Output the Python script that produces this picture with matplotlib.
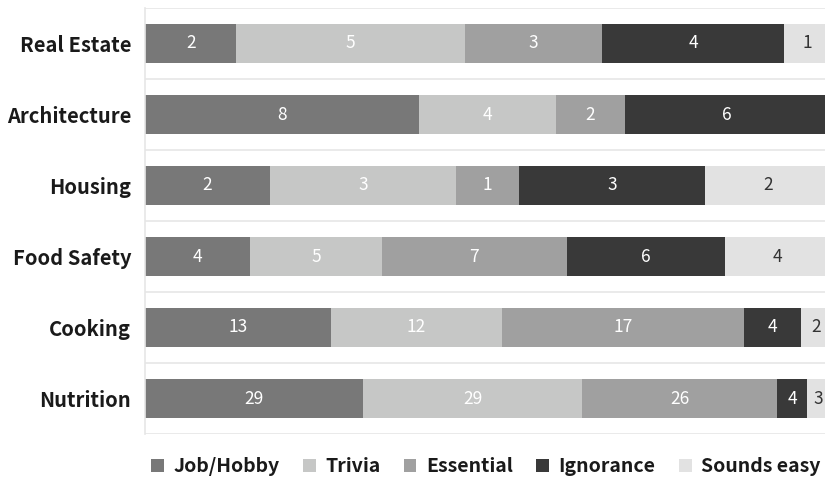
import matplotlib
matplotlib.use("Agg")
import matplotlib.pyplot as plt
import numpy as np

plt.rcParams['font.family'] = ['Noto Sans CJK JP', 'DejaVu Sans']

categories = ["Real Estate", "Architecture", "Housing", "Food Safety", "Cooking", "Nutrition"]
series_names = ["Job/Hobby", "Trivia", "Essential", "Ignorance", "Sounds easy"]
job_hobby = [2, 8, 2, 4, 13, 29]
trivia = [5, 4, 3, 5, 12, 29]
essential = [3, 2, 1, 7, 17, 26]
ignorance = [4, 6, 3, 6, 4, 4]
sounds_easy = [1, 0, 2, 4, 2, 3]

colors = ["#787878", "#c6c7c6", "#a0a0a0", "#393939", "#e2e2e2"]
text_colors = ["white", "white", "white", "white", "#333333"]

data = np.array([job_hobby, trivia, essential, ignorance, sounds_easy], dtype=float)
totals = data.sum(axis=0)
frac = data / totals

fig = plt.figure(figsize=(8.25, 4.79), dpi=100)
ax = fig.add_axes([145/825, 1-434/479, (830-145)/825, (434-8)/479])

y = np.arange(len(categories))
left = np.zeros(len(categories))
for i, name in enumerate(series_names):
    ax.barh(y, frac[i], left=left, height=0.54, color=colors[i], label=name, zorder=2)
    for j in range(len(categories)):
        if data[i, j] > 0:
            ax.text(left[j] + frac[i, j]/2, y[j], f"{int(data[i, j])}",
                    ha='center', va='center', color=text_colors[i], fontsize=12.5, zorder=3)
    left += frac[i]

ax.set_xlim(0, 1)
ax.set_ylim(len(categories) - 0.5, -0.5)
for b in np.arange(-0.5, len(categories), 1.0):
    ax.axhline(b, color="#e6e6e6", lw=1.2, zorder=1)
ax.set_yticks(y)
ax.set_yticklabels(categories, fontsize=14.5, fontweight='bold', color='#1a1a1a')
ax.tick_params(axis='y', length=0, pad=10)
ax.set_xticks([])
for s in ["top", "right", "bottom"]:
    ax.spines[s].set_visible(False)
ax.spines["left"].set_color("#e6e6e6")
ax.spines["left"].set_linewidth(1.2)

leg = fig.legend(loc='lower center', bbox_to_anchor=(0.589, -0.03), ncol=5, frameon=False,
                 prop={'size': 14, 'weight': 'bold'}, handlelength=0.65, handleheight=0.65,
                 handletextpad=0.5, columnspacing=1.2)
for t in leg.get_texts():
    t.set_color('#1a1a1a')

fig.savefig("out.png", dpi=100)
